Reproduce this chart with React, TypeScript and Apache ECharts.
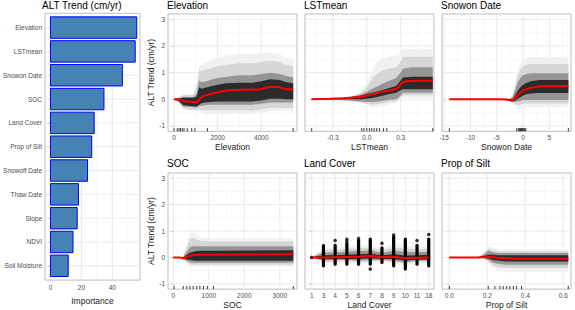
import React, { useEffect, useRef } from "react";
import * as echarts from "echarts";

const FONT = "'Liberation Sans', Arial, Helvetica, sans-serif";

// ---------------- Importance panel ----------------
const impCategories = ["Elevation", "LSTmean", "Snowon Date", "SOC", "Land Cover", "Prop of Silt", "Snowoff Date", "Thaw Date", "Slope", "NDVI", "Soil Moisture"];
const impValues = [55.8, 54.8, 46.5, 34.6, 28.3, 26.7, 24.0, 18.1, 17.3, 14.6, 11.5];
const impTicks = [0, 20, 40];
const impMinorTicks = [10, 30, 50];
const impIndex = [0, 1, 2, 3, 4, 5, 6, 7, 8, 9, 10];

// ---------------- ICE panels: shared y ----------------
const yTicks = [-1, 0, 1, 2, 3];
const yMinorTicks = [-0.5, 0.5, 1.5, 2.5];

// Elevation
const elevTicks = [0, 2000, 4000];
const elevMinorTicks = [1000, 3000, 5000];
const elevMeanX = [0, 200, 430, 880, 1040, 1190, 1340, 1650, 1950, 2340, 2720, 3300, 3940, 4170, 4400, 4850, 5080, 5460];
const elevMean = [0, 0, -0.07, -0.1, -0.12, 0.03, 0.12, 0.19, 0.25, 0.32, 0.35, 0.36, 0.37, 0.43, 0.47, 0.45, 0.39, 0.37];
const elevBandX = [0, 200, 430, 880, 1040, 1150, 1250, 1400, 1650, 2000, 2400, 3000, 3600, 4000, 4400, 4850, 5100, 5460];
const elevFaintHi = [0.03, 0.08, 0.18, 0.2, 0.6, 1.25, 1.3, 1.35, 1.45, 1.55, 1.65, 1.7, 1.7, 1.75, 1.75, 1.7, 1.55, 1.5];
const elevFaintLo = [-0.03, -0.12, -0.38, -0.45, -0.45, -0.45, -0.5, -0.55, -0.55, -0.55, -0.55, -0.55, -0.55, -0.5, -0.45, -0.45, -0.45, -0.45];
const elevLightHi = [0.025, 0.06, 0.15, 0.16, 0.45, 1.1, 1.05, 1.1, 1.15, 1.25, 1.3, 1.35, 1.35, 1.4, 1.45, 1.4, 1.3, 1.25];
const elevLightLo = [-0.025, -0.1, -0.34, -0.4, -0.4, -0.38, -0.4, -0.42, -0.42, -0.42, -0.42, -0.42, -0.42, -0.38, -0.33, -0.33, -0.33, -0.33];
const elevMidHi = [0.015, 0.04, 0.09, 0.09, 0.2, 0.7, 0.65, 0.66, 0.72, 0.8, 0.85, 0.9, 0.9, 0.95, 1.0, 0.95, 0.88, 0.82];
const elevMidLo = [-0.015, -0.07, -0.27, -0.3, -0.31, -0.26, -0.24, -0.22, -0.2, -0.2, -0.2, -0.2, -0.2, -0.17, -0.12, -0.12, -0.12, -0.12];
const elevDarkHi = [0.01, 0.03, 0.06, 0.06, 0.1, 0.45, 0.4, 0.42, 0.48, 0.55, 0.6, 0.62, 0.62, 0.68, 0.75, 0.72, 0.65, 0.6];
const elevDarkLo = [-0.01, -0.05, -0.22, -0.26, -0.27, -0.2, -0.15, -0.12, -0.1, -0.08, -0.08, -0.08, -0.08, -0.04, 0.02, 0.02, 0.0, 0.0];
const elevRug = [0, 150, 230, 300, 380, 460, 610, 810, 960, 1530, 5460];

// LSTmean
const lstTicks = [-0.3, 0.0, 0.3, 0.6];
const lstMinorTicks = [-0.45, -0.15, 0.15, 0.45];
const lstMeanX = [-0.49, -0.33, -0.2, -0.13, -0.05, 0.0, 0.06, 0.12, 0.2, 0.265, 0.29, 0.31, 0.35, 0.45, 0.584];
const lstMean = [0, 0.02, 0.04, 0.07, 0.1, 0.14, 0.2, 0.27, 0.33, 0.4, 0.5, 0.62, 0.68, 0.7, 0.7];
const lstBandX = [-0.49, -0.3, -0.15, -0.05, 0.0, 0.05, 0.1, 0.15, 0.2, 0.26, 0.29, 0.32, 0.4, 0.584];
const lstFaintHi = [0.02, 0.05, 0.1, 0.3, 0.6, 1.1, 1.45, 1.55, 1.6, 1.65, 1.75, 1.9, 1.9, 1.9];
const lstFaintLo = [-0.02, -0.03, -0.08, -0.15, -0.22, -0.28, -0.28, -0.25, -0.2, -0.15, -0.05, 0.05, 0.05, 0.05];
const lstLightHi = [0.015, 0.045, 0.09, 0.24, 0.45, 0.8, 1.0, 1.1, 1.15, 1.2, 1.35, 1.6, 1.6, 1.6];
const lstLightLo = [-0.015, -0.025, -0.06, -0.12, -0.16, -0.2, -0.18, -0.15, -0.1, -0.07, 0.02, 0.15, 0.15, 0.15];
const lstMidHi = [0.01, 0.04, 0.08, 0.18, 0.28, 0.4, 0.5, 0.6, 0.7, 0.8, 0.95, 1.15, 1.2, 1.2];
const lstMidLo = [-0.01, -0.02, -0.04, -0.08, -0.1, -0.1, -0.08, -0.05, -0.02, 0.0, 0.1, 0.25, 0.25, 0.25];
const lstDarkHi = [0.01, 0.03, 0.08, 0.14, 0.2, 0.25, 0.3, 0.36, 0.42, 0.5, 0.65, 0.82, 0.85, 0.85];
const lstDarkLo = [-0.01, 0.0, 0.0, 0.0, 0.02, 0.05, 0.1, 0.14, 0.2, 0.25, 0.32, 0.38, 0.38, 0.38];
const lstRug = [-0.488, -0.045, -0.025, 0.0, 0.023, 0.044, 0.065, 0.088, 0.112, 0.147, 0.177, 0.584];

// Snowon Date
const snowTicks = [-15, -10, -5, 0, 5];
const snowMinorTicks = [-12.5, -7.5, -2.5, 2.5, 7.5];
const snowMeanX = [-14, -5, -3, -2.2, -1.6, -1.1, -0.5, 0, 0.7, 1.3, 2, 2.6, 3.5, 5, 8.6];
const snowMean = [0, 0, -0.01, -0.05, 0.03, 0.14, 0.25, 0.33, 0.38, 0.42, 0.45, 0.47, 0.49, 0.5, 0.5];
const snowBandX = [-14, -4, -2.6, -2, -1.5, -1, -0.5, 0, 0.7, 1.5, 3, 8.6];
const snowFaintHi = [0.01, 0.01, 0.02, 0.15, 0.6, 1.1, 1.35, 1.5, 1.55, 1.6, 1.6, 1.6];
const snowFaintLo = [-0.01, -0.01, -0.08, -0.15, -0.25, -0.35, -0.35, -0.35, -0.3, -0.3, -0.3, -0.3];
const snowLightHi = [0.008, 0.008, 0.015, 0.12, 0.5, 0.9, 1.1, 1.25, 1.3, 1.32, 1.32, 1.32];
const snowLightLo = [-0.008, -0.008, -0.07, -0.12, -0.18, -0.22, -0.2, -0.18, -0.16, -0.16, -0.16, -0.16];
const snowMidHi = [0.005, 0.005, 0.01, 0.08, 0.35, 0.65, 0.8, 0.9, 0.95, 0.98, 0.98, 0.98];
const snowMidLo = [-0.005, -0.005, -0.06, -0.1, -0.1, -0.08, -0.05, -0.03, -0.03, -0.03, -0.03, -0.03];
const snowDarkHi = [0.003, 0.003, 0.0, 0.0, 0.15, 0.32, 0.45, 0.55, 0.62, 0.68, 0.72, 0.72];
const snowDarkLo = [-0.003, -0.003, -0.04, -0.08, -0.04, 0.02, 0.08, 0.14, 0.2, 0.22, 0.24, 0.24];
const snowRug = [-14, -1.2, -0.9, -0.7, -0.5, -0.3, -0.1, 0.1, 0.3, 0.5, 8.6];

// SOC
const socTicks = [0, 1000, 2000, 3000];
const socMinorTicks = [500, 1500, 2500];
const socMeanX = [0, 180, 280, 400, 520, 660, 1000, 2000, 3380];
const socMean = [0, 0, -0.03, 0.03, 0.08, 0.1, 0.1, 0.11, 0.12];
const socBandX = [0, 180, 280, 380, 470, 560, 660, 800, 1100, 3380];
const socFaintHi = [0.01, 0.01, 0.05, 0.5, 0.95, 1.0, 0.85, 0.75, 0.72, 0.72];
const socFaintLo = [-0.01, -0.01, -0.08, -0.22, -0.32, -0.34, -0.34, -0.34, -0.34, -0.34];
const socLightHi = [0.008, 0.008, 0.04, 0.38, 0.7, 0.75, 0.68, 0.62, 0.6, 0.6];
const socLightLo = [-0.008, -0.008, -0.07, -0.18, -0.26, -0.28, -0.28, -0.28, -0.28, -0.28];
const socMidHi = [0.005, 0.005, 0.03, 0.22, 0.4, 0.42, 0.42, 0.42, 0.42, 0.42];
const socMidLo = [-0.005, -0.005, -0.06, -0.13, -0.18, -0.2, -0.2, -0.2, -0.2, -0.2];
const socDarkHi = [0.003, 0.003, 0.0, 0.1, 0.18, 0.22, 0.24, 0.25, 0.25, 0.27];
const socDarkLo = [-0.003, -0.003, -0.05, -0.08, -0.1, -0.12, -0.13, -0.13, -0.13, -0.13];
const socRug = [20, 280, 380, 470, 560, 660, 750, 850, 960, 1130, 3380];

// Land Cover (categorical)
const lcCategories = ["1", "3", "4", "5", "6", "7", "8", "9", "10", "11", "18"];
const lcIndex = [0, 1, 2, 3, 4, 5, 6, 7, 8, 9, 10];
const lcMean = [0, 0.0, 0.01, 0.02, 0.03, 0.06, 0.01, 0.03, -0.03, -0.01, 0.0];
const lcColHi = [0, 0.47, 0.48, 0.54, 0.66, 0.72, 0.39, 0.79, 0.72, 0.48, 0.72];
const lcColLo = [0, -0.34, -0.28, -0.28, -0.28, -0.28, -0.21, -0.34, -0.46, -0.28, -0.34];
const lcOutX = [0, 2, 3, 3, 4, 5, 6, 7, 9, 10];
const lcOutY = [0, 0.64, 0.69, 0.6, 0.72, -0.44, 0.54, 0.85, 0.64, 0.87];
const lcFaintHi = [0.02, 0.35, 0.38, 0.42, 0.45, 0.45, 0.35, 0.5, 0.45, 0.4, 0.45];
const lcFaintLo = [-0.02, -0.22, -0.2, -0.2, -0.22, -0.22, -0.15, -0.25, -0.3, -0.2, -0.22];
const lcLightHi = [0.015, 0.27, 0.3, 0.32, 0.35, 0.36, 0.27, 0.38, 0.34, 0.3, 0.34];
const lcLightLo = [-0.015, -0.17, -0.15, -0.15, -0.17, -0.16, -0.12, -0.18, -0.24, -0.16, -0.17];
const lcMidHi = [0.01, 0.18, 0.2, 0.22, 0.24, 0.26, 0.18, 0.25, 0.22, 0.2, 0.22];
const lcMidLo = [-0.01, -0.12, -0.1, -0.1, -0.12, -0.1, -0.1, -0.12, -0.18, -0.12, -0.12];
const lcDarkHi = [0.005, 0.08, 0.09, 0.1, 0.12, 0.14, 0.08, 0.12, 0.07, 0.08, 0.1];
const lcDarkLo = [-0.005, -0.07, -0.06, -0.06, -0.06, -0.03, -0.06, -0.06, -0.12, -0.09, -0.08];

// Prop of Silt
const siltTicks = [0, 0.2, 0.4, 0.6];
const siltMinorTicks = [0.1, 0.3, 0.5];
const siltMeanX = [0, 0.16, 0.185, 0.205, 0.225, 0.25, 0.3, 0.35, 0.45, 0.55, 0.626];
const siltMean = [0, 0, 0.015, 0.03, 0.02, -0.01, -0.03, -0.05, -0.05, -0.05, -0.05];
const siltBandX = [0, 0.15, 0.18, 0.205, 0.23, 0.26, 0.3, 0.4, 0.626];
const siltFaintHi = [0.01, 0.01, 0.2, 0.42, 0.35, 0.3, 0.3, 0.3, 0.3];
const siltFaintLo = [-0.01, -0.01, -0.05, -0.2, -0.4, -0.5, -0.55, -0.55, -0.55];
const siltLightHi = [0.008, 0.008, 0.15, 0.33, 0.27, 0.23, 0.23, 0.23, 0.23];
const siltLightLo = [-0.008, -0.008, -0.04, -0.15, -0.3, -0.37, -0.4, -0.4, -0.4];
const siltMidHi = [0.005, 0.005, 0.1, 0.25, 0.2, 0.17, 0.17, 0.17, 0.17];
const siltMidLo = [-0.005, -0.005, -0.03, -0.1, -0.2, -0.25, -0.28, -0.28, -0.28];
const siltDarkHi = [0.003, 0.003, 0.05, 0.1, 0.1, 0.08, 0.08, 0.08, 0.08];
const siltDarkLo = [-0.003, -0.003, -0.02, -0.04, -0.1, -0.13, -0.15, -0.15, -0.15];
const siltRug = [0, 0.205, 0.24, 0.267, 0.284, 0.302, 0.319, 0.337, 0.354, 0.38, 0.626];

// ---------------- styling ----------------
const Y_MIN = -1.2;
const Y_MAX = 3.2;
const RUG_TOP = -1.08;
const BORDER = "#bdbdbd";
const GRID_MAJOR = "#e4e4e4";
const GRID_MINOR = "#f1f1f1";
const BAND_COLORS = ["#f1f1f1", "#d6d6d6", "#959595", "#2b2b2b"];

function zip(xs: number[], ys: number[]) {
  return xs.map((x, i) => [x, ys[i]]);
}

function segSeries(gi: number, segs: number[][], color: string, width: number) {
  return {
    type: "custom",
    xAxisIndex: gi,
    yAxisIndex: gi,
    silent: true,
    data: segs,
    encode: { x: [0, 2], y: [1, 3] },
    renderItem: (_p: any, api: any) => {
      const a = api.coord([api.value(0), api.value(1)]);
      const b = api.coord([api.value(2), api.value(3)]);
      return {
        type: "line",
        shape: { x1: a[0], y1: a[1], x2: b[0], y2: b[1] },
        style: { stroke: color, lineWidth: width },
      };
    },
  };
}

function bandSeries(gi: number, xs: number[], lo: number[], hi: number[], color: string) {
  return {
    type: "custom",
    xAxisIndex: gi,
    yAxisIndex: gi,
    silent: true,
    data: [[xs[0], lo[0]]],
    encode: { x: 0, y: 1 },
    renderItem: (_p: any, api: any) => {
      const upper = xs.map((x, i) => api.coord([x, hi[i]]));
      const lower = xs.map((x, i) => api.coord([x, lo[i]])).reverse();
      return {
        type: "polygon",
        shape: { points: upper.concat(lower) },
        style: { fill: color },
      };
    },
  };
}

function buildOption() {
  const grids: any[] = [];
  const xAxes: any[] = [];
  const yAxes: any[] = [];
  const series: any[] = [];
  const titles: any[] = [];

  const tick = (vals: number[]) => ({ show: true, length: 2, customValues: vals, lineStyle: { color: "#b3b3b3", width: 1 } });
  const label = (vals: number[], fmt: (v: number) => string, show = true, margin = 3) => ({
    show,
    customValues: vals,
    formatter: fmt,
    fontSize: 6.5,
    color: "#4d4d4d",
    fontFamily: FONT,
    margin,
  });
  const nameStyle = { fontSize: 8.5, color: "#1a1a1a", fontFamily: FONT };
  const titleStyle = { fontSize: 10, color: "#000", fontWeight: "normal", fontFamily: FONT };

  // ---------- Importance bar panel ----------
  grids.push({ left: 41.7, top: 13.3, width: 98.3, height: 275, show: true, borderColor: BORDER, borderWidth: 1, backgroundColor: "#fff" });
  xAxes.push({
    type: "value", gridIndex: 0, min: -3.5, max: 57.9,
    axisLine: { show: false }, axisTick: tick(impTicks), axisLabel: label(impTicks, (v) => String(Math.round(v)), true, 4),
    splitLine: { show: false },
    name: "Importance", nameLocation: "middle", nameGap: 13.5, nameTextStyle: nameStyle,
  });
  yAxes.push({
    type: "value", gridIndex: 0, min: -0.6, max: 10.6, inverse: true,
    axisLine: { show: false }, axisTick: tick(impIndex), axisLabel: label(impIndex, (v) => impCategories[Math.round(v)] || ""),
    splitLine: { show: false },
  });
  titles.push({ text: "ALT Trend (cm/yr)", left: 42, top: 0, padding: 0, textStyle: titleStyle });
  series.push(segSeries(0, impMinorTicks.map((v) => [v, -0.6, v, 10.6]), GRID_MINOR, 0.5));
  series.push(segSeries(0, [...impTicks.map((v) => [v, -0.6, v, 10.6]), ...impIndex.map((i) => [-3.5, i, 57.9, i])], GRID_MAJOR, 0.8));
  series.push({
    type: "custom", xAxisIndex: 0, yAxisIndex: 0, silent: true,
    data: impValues.map((v, i) => [v, impIndex[i]]),
    encode: { x: 0, y: 1 },
    renderItem: (_p: any, api: any) => {
      const v = api.value(0);
      const i = api.value(1);
      const a = api.coord([0, i - 0.45]);
      const b = api.coord([v, i + 0.45]);
      return {
        type: "rect",
        shape: { x: a[0], y: Math.min(a[1], b[1]), width: b[0] - a[0], height: Math.abs(b[1] - a[1]) },
        style: { fill: "#4682b4", stroke: "#0000ff", lineWidth: 1 },
      };
    },
  });

  // ---------- ICE panels ----------
  const intFmt = (v: number) => String(Math.round(v));
  const decFmt = (v: number) => v.toFixed(1);
  const panels: any[] = [
    { title: "Elevation", left: 168, top: 14, xMin: -275, xMax: 5634, ticks: elevTicks, minor: elevMinorTicks, fmt: intFmt,
      bandX: elevBandX, bands: [[elevFaintLo, elevFaintHi], [elevLightLo, elevLightHi], [elevMidLo, elevMidHi], [elevDarkLo, elevDarkHi]], meanX: elevMeanX, mean: elevMean, rug: elevRug, showY: true },
    { title: "LSTmean", left: 305, top: 14, xMin: -0.547, xMax: 0.595, ticks: lstTicks, minor: lstMinorTicks, fmt: decFmt,
      bandX: lstBandX, bands: [[lstFaintLo, lstFaintHi], [lstLightLo, lstLightHi], [lstMidLo, lstMidHi], [lstDarkLo, lstDarkHi]], meanX: lstMeanX, mean: lstMean, rug: lstRug, showY: false },
    { title: "Snowon Date", left: 442, top: 14, xMin: -15.4, xMax: 9.1, ticks: snowTicks, minor: snowMinorTicks, fmt: intFmt,
      bandX: snowBandX, bands: [[snowFaintLo, snowFaintHi], [snowLightLo, snowLightHi], [snowMidLo, snowMidHi], [snowDarkLo, snowDarkHi]], meanX: snowMeanX, mean: snowMean, rug: snowRug, showY: false },
    { title: "SOC", left: 168, top: 173, xMin: -149, xMax: 3484, ticks: socTicks, minor: socMinorTicks, fmt: intFmt,
      bandX: socBandX, bands: [[socFaintLo, socFaintHi], [socLightLo, socLightHi], [socMidLo, socMidHi], [socDarkLo, socDarkHi]], meanX: socMeanX, mean: socMean, rug: socRug, showY: true },
    { title: "Land Cover", left: 305, top: 173, xMin: -0.58, xMax: 10.45, ticks: lcIndex, minor: [], fmt: (v: number) => lcCategories[Math.round(v)] || "",
      bandX: lcIndex, bands: [[lcFaintLo, lcFaintHi], [lcLightLo, lcLightHi], [lcMidLo, lcMidHi], [lcDarkLo, lcDarkHi]], meanX: lcIndex, mean: lcMean, rug: null, showY: false, landCover: true },
    { title: "Prop of Silt", left: 442, top: 173, xMin: -0.0384, xMax: 0.6405, ticks: siltTicks, minor: siltMinorTicks, fmt: decFmt,
      bandX: siltBandX, bands: [[siltFaintLo, siltFaintHi], [siltLightLo, siltLightHi], [siltMidLo, siltMidHi], [siltDarkLo, siltDarkHi]], meanX: siltMeanX, mean: siltMean, rug: siltRug, showY: false },
  ];

  panels.forEach((p, k) => {
    const gi = k + 1;
    const topRow = p.top < 100;
    grids.push({ left: p.left, top: p.top, width: 129, height: 117.3, show: true, borderColor: BORDER, borderWidth: 1, backgroundColor: "#fff" });
    xAxes.push({
      type: "value", gridIndex: gi, min: p.xMin, max: p.xMax,
      axisLine: { show: false }, axisTick: tick(p.ticks), axisLabel: label(p.ticks, p.fmt),
      splitLine: { show: false },
      name: p.title, nameLocation: "middle", nameGap: topRow ? 11 : 10.5, nameTextStyle: nameStyle,
    });
    yAxes.push({
      type: "value", gridIndex: gi, min: Y_MIN, max: Y_MAX,
      axisLine: { show: false }, axisTick: tick(yTicks), axisLabel: label(yTicks, intFmt, p.showY),
      splitLine: { show: false },
      name: p.showY ? "ALT Trend (cm/yr)" : "", nameLocation: "middle", nameGap: 11, nameRotate: 90, nameTextStyle: nameStyle,
    });
    titles.push({ text: p.title, left: p.left - 1, top: topRow ? 0 : 158, padding: 0, textStyle: titleStyle });

    const minorSegs = [
      ...p.minor.map((v: number) => [v, Y_MIN, v, Y_MAX]),
      ...yMinorTicks.map((v) => [p.xMin, v, p.xMax, v]),
    ];
    const majorSegs = [
      ...p.ticks.map((v: number) => [v, Y_MIN, v, Y_MAX]),
      ...yTicks.map((v) => [p.xMin, v, p.xMax, v]),
    ];
    series.push(segSeries(gi, minorSegs, GRID_MINOR, 0.5));
    series.push(segSeries(gi, majorSegs, GRID_MAJOR, 0.8));

    p.bands.forEach((b: number[][], bi: number) => {
      series.push(bandSeries(gi, p.bandX, b[0], b[1], BAND_COLORS[bi]));
    });

    if (p.landCover) {
      series.push({
        type: "custom", xAxisIndex: gi, yAxisIndex: gi, silent: true,
        data: lcIndex.map((i) => [i, lcColLo[i], lcColHi[i]]),
        encode: { x: 0, y: [1, 2] },
        renderItem: (_p: any, api: any) => {
          const t = api.coord([api.value(0), api.value(2)]);
          const bt = api.coord([api.value(0), api.value(1)]);
          const w = 3.2;
          return {
            type: "rect",
            shape: { x: t[0] - w / 2, y: t[1] - 1, width: w, height: Math.max(bt[1] - t[1], 0) + 2, r: 1.6 },
            style: { fill: "#000" },
          };
        },
      });
      series.push({
        type: "scatter", xAxisIndex: gi, yAxisIndex: gi, silent: true,
        data: zip(lcOutX, lcOutY), symbol: "circle", symbolSize: 3.6,
        itemStyle: { color: "#000" },
      });
    }

    series.push({
      type: "line", xAxisIndex: gi, yAxisIndex: gi, silent: true,
      data: zip(p.meanX, p.mean), symbol: "none",
      lineStyle: { color: "#ff0000", width: 2 },
    });

    if (p.rug) {
      series.push(segSeries(gi, p.rug.map((r: number) => [r, Y_MIN, r, RUG_TOP]), "#222222", 0.9));
    }
  });

  return {
    animation: false,
    backgroundColor: "#ffffff",
    textStyle: { fontFamily: FONT },
    title: titles,
    grid: grids,
    xAxis: xAxes,
    yAxis: yAxes,
    series,
  };
}

export default function App() {
  const ref = useRef<HTMLDivElement>(null);
  useEffect(() => {
    if (!ref.current) return;
    const chart = echarts.init(ref.current, null, { renderer: "svg" });
    chart.setOption(buildOption() as any);
    return () => chart.dispose();
  }, []);
  return <div ref={ref} style={{ position: "absolute", left: 0, top: 0, width: 575, height: 310 }} />;
}
